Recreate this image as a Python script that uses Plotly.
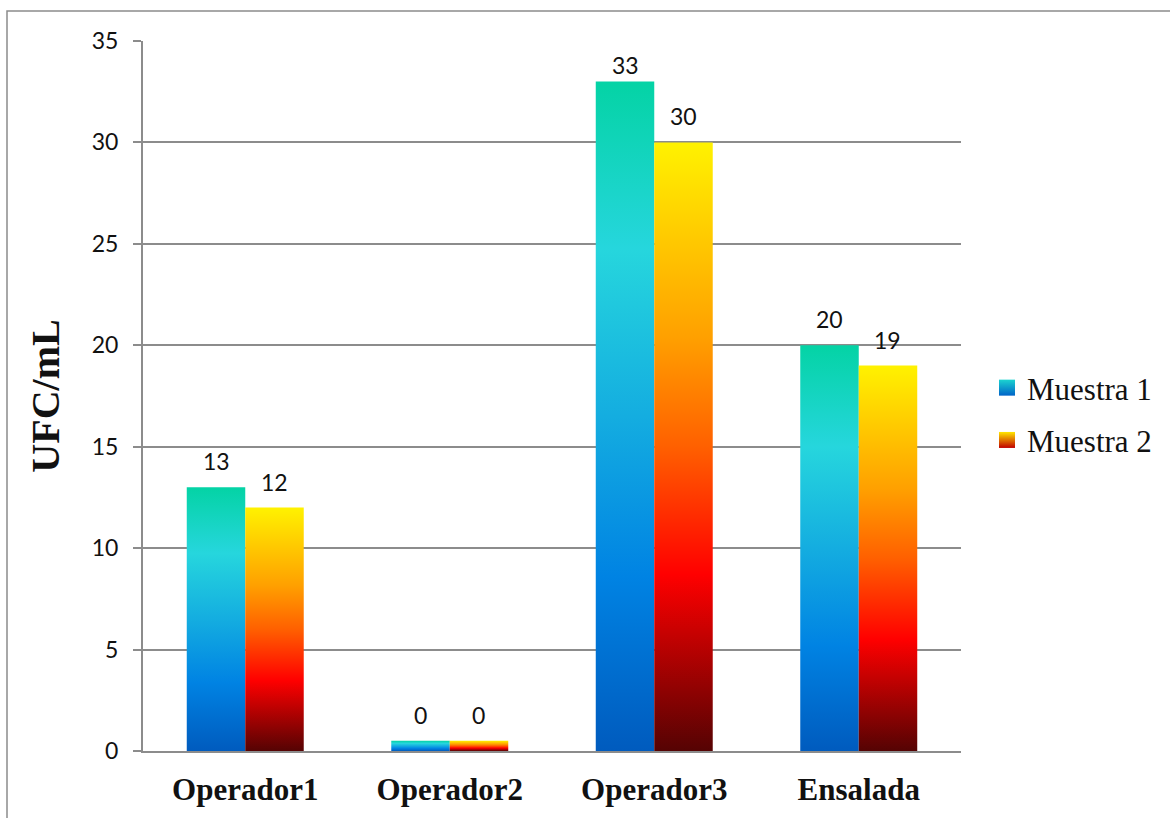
import plotly.graph_objects as go

categories = ["Operador1", "Operador2", "Operador3", "Ensalada"]
muestra1 = [13, 0.5, 33, 20]
muestra2 = [12, 0.5, 30, 19]
series_names = ["Muestra 1", "Muestra 2"]
ytick_vals = [0, 5, 10, 15, 20, 25, 30, 35]

scale1 = [[0, "#005BBE"], [0.26, "#0083E3"], [0.5, "#14ADE0"], [0.75, "#26D6DD"], [1, "#04D3A5"]]
scale2 = [[0, "#550303"], [0.29, "#FF0000"], [0.5, "#FF6000"], [0.68, "#FFA000"], [1, "#FFF200"]]
legend_top = ["#1BD3D0", "#FFE600"]
legend_bottom = ["#0063C8", "#C00000"]

BAR_W = 0.286
GRID = "#8c8c8c"
SERIF = "Liberation Serif, Times New Roman, serif"
SANS = "Lato, Calibri, sans-serif"
Y_MAX = 35
PLOT_H = 710

fig = go.Figure()
annotations = []

for s_idx, (name, vals, cs) in enumerate(zip(series_names, [muestra1, muestra2], [scale1, scale2])):
    for i, v in enumerate(vals):
        x0 = i - BAR_W if s_idx == 0 else i
        x1 = x0 + BAR_W
        fig.add_trace(go.Scatter(
            x=[x0, x0, x1, x1, x0], y=[0, v, v, 0, 0],
            mode="lines", fill="toself", line=dict(width=0),
            fillgradient=dict(type="vertical", colorscale=cs, start=0, stop=v),
            name=name, legendgroup=name, showlegend=False,
            hoverinfo="text", text=f"{categories[i]}: {v:.0f}",
        ))
        room = (Y_MAX - v) * PLOT_H / Y_MAX
        annotations.append(dict(
            x=(x0 + x1) / 2, y=v, xref="x", yref="y", text=f"{v:.0f}",
            showarrow=False, yanchor="middle", xanchor="center",
            yshift=min(26, room - 24),
            font=dict(family=SANS, size=23, color="#111"),
        ))
    # legend swatch
    fig.add_trace(go.Scatter(
        x=[None], y=[None], mode="markers", name=name, legendgroup=name,
        marker=dict(symbol="square", size=16, color=legend_top[s_idx],
                    gradient=dict(type="vertical", color=legend_bottom[s_idx]),
                    line=dict(width=0)),
        showlegend=True,
    ))

fig.update_layout(
    width=1170, height=818,
    margin=dict(l=143, r=209, t=41, b=67),
    paper_bgcolor="white", plot_bgcolor="white",
    showlegend=True,
    annotations=annotations,
    legend=dict(x=(987 - 143) / 818, y=(751 - 361) / 710, xanchor="left", yanchor="top",
                font=dict(family=SERIF, size=31, color="#111"),
                tracegroupgap=9, itemwidth=30, bgcolor="rgba(0,0,0,0)"),
    xaxis=dict(range=[-0.5, 3.5], tickmode="array", tickvals=list(range(len(categories))),
               ticktext=categories, showgrid=False, zeroline=False,
               showline=True, linecolor=GRID, linewidth=2, ticks="",
               tickfont=dict(family=SERIF, size=31, color="#111", weight="bold"),
               ticklabelstandoff=10, fixedrange=True),
    yaxis=dict(range=[0, Y_MAX], tickmode="array", tickvals=ytick_vals,
               showgrid=True, gridcolor=GRID, gridwidth=1.5, zeroline=False,
               showline=True, linecolor=GRID, linewidth=2,
               ticks="outside", ticklen=8, tickcolor=GRID, tickwidth=1.5,
               tickfont=dict(family=SANS, size=23, color="#111"),
               ticklabelstandoff=10,
               title=dict(text="UFC/mL", standoff=20,
                          font=dict(family=SERIF, size=40, color="#111", weight="bold")),
               fixedrange=True),
    shapes=[dict(type="rect", xref="paper", yref="paper",
                 x0=(7 - 143) / 818, x1=(1185 - 143) / 818,
                 y0=(751 - 830) / 710, y1=(751 - 11) / 710,
                 line=dict(color=GRID, width=1.5), fillcolor="rgba(0,0,0,0)", layer="below")],
)

fig.write_html("out.html")
